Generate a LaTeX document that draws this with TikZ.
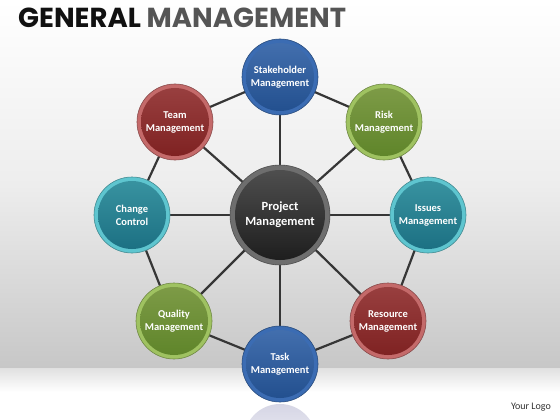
\documentclass[tikz,border=0pt]{standalone}
\usepackage{fontspec}
\setmainfont{Carlito}
\newfontfamily\titlefont{Poppins}
\usetikzlibrary{calc}
\definecolor{linec}{HTML}{363636}
\tikzset{
  bub/.style={circle, inner sep=0pt, draw=#1!70!black, line width=0.6pt},
  lbl/.style={text=white, font=\bfseries\fontsize{10.5}{13}\selectfont, align=center},
  conn/.style={draw=linec, line width=2.2pt},
}
\newcommand{\mybubble}[9]{%
  % #1 name, #2 x, #3 y, #4 radius, #5 rim, #6 top, #7 bottom, #8 text, #9 edge
  \node[bub=#9, minimum size=#4*2pt, fill=#5] (#1) at (#2,#3) {};
  \shade[top color=#6!85!black, middle color=#6, bottom color=#7] (#1.center) circle ({#4-4});
  \node[lbl] (#1-t) at (#1.center) {#8};
}
\begin{document}
\begin{tikzpicture}[x=1pt,y=-1pt]
\useasboundingbox (0,0) rectangle (560,420);
% background
\shade[top color=white, bottom color=white!78!black, middle color=white!93!black] (0,0) rectangle (560,368);
\shade[top color=white!88!black, bottom color=white] (0,368) rectangle (560,392);
\fill[white] (0,392) rectangle (560,420);
% reflection of bottom bubble
\begin{scope}
\clip (0,403) rectangle (560,420);
\shade[top color=white!80!blue!60!gray, bottom color=white, opacity=0.5] (280,440) circle (36);
\end{scope}
% title
\node[anchor=west, inner sep=0pt, font=\titlefont\bfseries\fontsize{27.5}{29}\selectfont] (title) at (18,18) {\textcolor[HTML]{111111}{GENERAL} \textcolor[HTML]{555555}{MANAGEMENT}};
% coordinates
\coordinate (pc) at (280,215);
\coordinate (sc) at (280,77);
\coordinate (rc) at (384,122);
\coordinate (ic) at (428,215);
\coordinate (rsc) at (388,321);
\coordinate (tc) at (280,364);
\coordinate (qc) at (174,321);
\coordinate (cc) at (132,215);
\coordinate (tmc) at (175,122);
% connectors
\foreach \a in {sc,rc,ic,rsc,tc,qc,cc,tmc} {\draw[conn] (pc) -- (\a);}
\draw[conn] (sc) -- (rc) -- (ic) -- (rsc) -- (tc) -- (qc) -- (cc) -- (tmc) -- cycle;
% bubbles
\definecolor{brim}{HTML}{3B6CB3}\definecolor{btop}{HTML}{4E82CC}\definecolor{bbot}{HTML}{23508F}
\definecolor{grim}{HTML}{9FC261}\definecolor{gtop}{HTML}{93B653}\definecolor{gbot}{HTML}{5F852A}
\definecolor{trim}{HTML}{5EC5CF}\definecolor{ttop}{HTML}{42ACBC}\definecolor{tbot}{HTML}{1C7083}
\definecolor{rrim}{HTML}{C46A6A}\definecolor{rtop}{HTML}{B34A4A}\definecolor{rbot}{HTML}{7F2222}
\definecolor{crim}{HTML}{6E6E6E}\definecolor{ctop}{HTML}{5C5C5C}\definecolor{cbot}{HTML}{1E1E1E}
\mybubble{stake}{280}{77}{38}{brim}{btop}{bbot}{Stakeholder\\Management}{brim}
\mybubble{risk}{384}{122}{38}{grim}{gtop}{gbot}{Risk\\Management}{grim}
\mybubble{issues}{428}{215}{38}{trim}{ttop}{tbot}{Issues\\Management}{trim}
\mybubble{resource}{388}{321}{38}{rrim}{rtop}{rbot}{Resource\\Management}{rrim}
\mybubble{task}{280}{364}{38}{brim}{btop}{bbot}{Task\\Management}{brim}
\mybubble{quality}{174}{321}{38}{grim}{gtop}{gbot}{Quality\\Management}{grim}
\mybubble{change}{132}{215}{38}{trim}{ttop}{tbot}{Change\\Control}{trim}
\mybubble{team}{175}{122}{38}{rrim}{rtop}{rbot}{Team\\Management}{rrim}
\node[bub=crim, minimum size=100pt, fill=crim] (proj) at (pc) {};
\shade[top color=ctop!85!black, middle color=ctop, bottom color=cbot] (proj.center) circle (45);
\node[lbl, font=\bfseries\fontsize{12.5}{15}\selectfont] (proj-t) at (proj.center) {Project\\Management};
% logo
\node[anchor=east, inner sep=0pt, text=black!80, font=\fontsize{10}{12}\selectfont] (logo) at (551,407) {Your Logo};
\end{tikzpicture}
\end{document}
